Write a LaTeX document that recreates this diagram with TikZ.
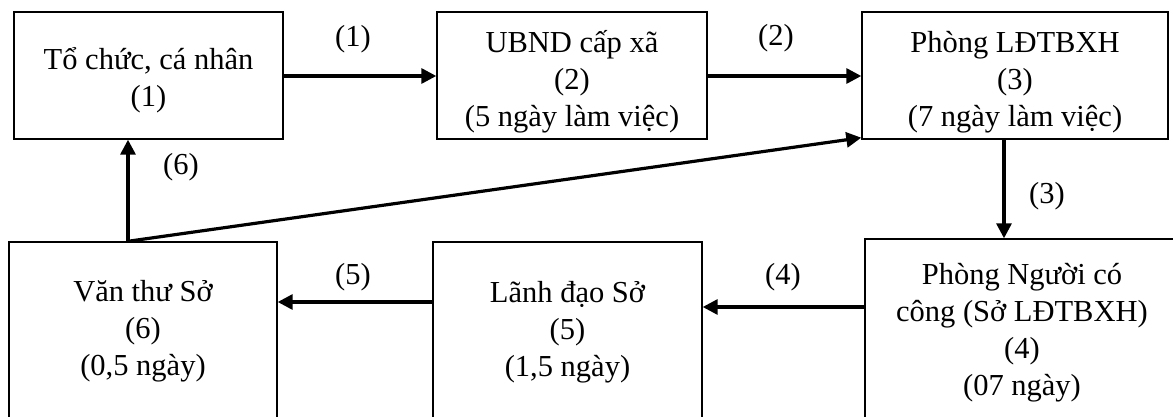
\documentclass[tikz,border=0pt]{standalone}
\usepackage{fontspec}
\setmainfont{Liberation Serif}
\usetikzlibrary{arrows.meta}
\newcommand{\topstrut}[1]{\rule{0pt}{#1}}
\begin{document}
\begin{tikzpicture}[x=1pt,y=-1pt,
  box/.style={draw=black,line width=1.4pt,rectangle,inner sep=0pt,align=center,
    font=\fontsize{30.5}{37}\selectfont},
  lbl/.style={inner sep=0pt,font=\fontsize{30.5}{37}\selectfont},
  arr/.style={line width=3.2pt,-{Triangle[length=15pt,width=15pt]}},
  ln/.style={line width=3.2pt}]
\useasboundingbox (0,0) rectangle (1173,417);
\clip (0,0) rectangle (1173,417);
\node[box,minimum width=269pt,minimum height=127pt] (A) at (148.5,75.5) {\topstrut{31pt}Tổ chức, cá nhân\\(1)};
\node[box,minimum width=270pt,minimum height=127pt] (B) at (572,75.5) {\topstrut{34pt}UBND cấp xã\\(2)\\(5 ngày làm việc)};
\node[box,minimum width=306pt,minimum height=127pt] (C) at (1015,75.5) {\topstrut{34pt}Phòng LĐTBXH\\(3)\\(7 ngày làm việc)};
\node[box,minimum width=268pt,minimum height=178pt] (D) at (143,331) {Văn thư Sở\\(6)\\(0,5 ngày)};
\node[box,minimum width=269pt,minimum height=181pt] (E) at (567.5,332.5) {Lãnh đạo Sở\\(5)\\(1,5 ngày)};
\node[box,minimum width=314pt,minimum height=188pt] (F) at (1022,333) {Phòng Người có\\công (Sở LĐTBXH)\\(4)\\(07 ngày)};
\draw[arr] (A.east |- 0,76) -- (B.west |- 0,76);
\draw[arr] (B.east |- 0,76) -- (C.west |- 0,76);
\draw[arr] (C.south -| 1004,0) -- (F.north -| 1004,0);
\draw[arr] (F.west |- 0,307) -- (E.east |- 0,307);
\draw[arr] (E.west |- 0,302) -- (D.east |- 0,302);
\draw[arr] (D.north -| 128,0) -- (A.south -| 128,0);
\draw[arr] (D.north -| 128,0) -- ([yshift=2pt]C.south west);
\node[lbl] (l1) at (353,39) {(1)};
\node[lbl] (l2) at (776,38) {(2)};
\node[lbl] (l3) at (1047,196) {(3)};
\node[lbl] (l4) at (783,277) {(4)};
\node[lbl] (l5) at (353,277) {(5)};
\node[lbl] (l6) at (181,167) {(6)};
\end{tikzpicture}
\end{document}
